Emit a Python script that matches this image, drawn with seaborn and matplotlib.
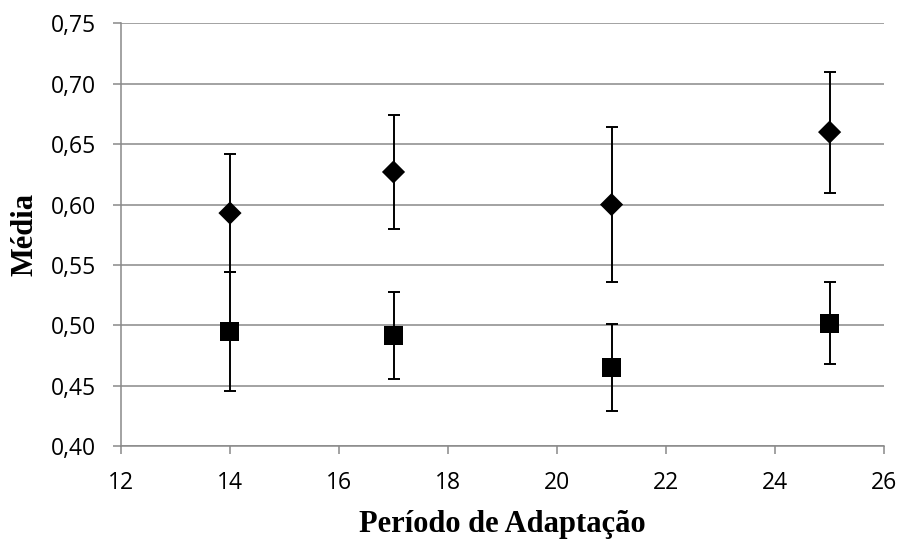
import matplotlib
matplotlib.use("Agg")
import matplotlib.pyplot as plt
import seaborn as sns
import pandas as pd

periodo = [14, 17, 21, 25]
media_a = [0.593, 0.627, 0.600, 0.660]
erro_a = [0.049, 0.047, 0.064, 0.050]
media_b = [0.495, 0.492, 0.465, 0.502]
erro_b = [0.049, 0.036, 0.036, 0.034]
y_ticks = [0.40, 0.45, 0.50, 0.55, 0.60, 0.65, 0.70, 0.75]
x_ticks = [12, 14, 16, 18, 20, 22, 24, 26]

df = pd.DataFrame({
    "Período": periodo * 2,
    "Média": media_a + media_b,
    "Erro": erro_a + erro_b,
    "Série": ["A"] * 4 + ["B"] * 4,
})

sns.set_theme(style="white")
plt.rcParams["font.family"] = ["Open Sans", "DejaVu Sans"]

fig = plt.figure(figsize=(9.04, 5.4), dpi=100)
ax = fig.add_axes([0.1338, 0.1735, 0.978 - 0.1338, 0.9568 - 0.1735])

grid_c = "#898989"
for s, g in df.groupby("Série"):
    ax.errorbar(g["Período"], g["Média"], yerr=g["Erro"], fmt="none",
                ecolor="black", elinewidth=1.4, capsize=4.3, capthick=1.4, zorder=3)

sns.scatterplot(data=df, x="Período", y="Média", style="Série",
                markers={"A": "D", "B": "s"}, color="black",
                ax=ax, legend=False, zorder=4, linewidth=0)
coll = ax.collections[-1]
sizes = [11.8 ** 2 if s == "A" else 13.7 ** 2 for s in df["Série"]]
coll.set_sizes(sizes)

ax.set_xlim(12, 26)
ax.set_ylim(0.40, 0.75)
ax.set_xticks(x_ticks)
ax.set_yticks(y_ticks)
ax.set_yticklabels([f"{v:.2f}".replace(".", ",") for v in y_ticks])
ax.set_xticklabels([str(v) for v in x_ticks])
ax.yaxis.grid(True, color=grid_c, linewidth=1.1)
ax.xaxis.grid(False)
ax.set_axisbelow(True)

for side in ["top", "right"]:
    ax.spines[side].set_visible(False)
for side in ["left", "bottom"]:
    ax.spines[side].set_color(grid_c)
    ax.spines[side].set_linewidth(1.1)

ax.tick_params(axis="both", which="major", length=5.8, width=1.1, color=grid_c,
               labelsize=16.5, labelcolor="black", direction="out",
               left=True, bottom=True)
ax.tick_params(axis="x", pad=12)
ax.tick_params(axis="y", pad=12)

ax.set_xlabel("Período de Adaptação", family="Liberation Serif", fontweight="bold",
              fontsize=22, color="black", labelpad=11)
ax.set_ylabel("Média", family="Liberation Serif", fontweight="bold",
              fontsize=22, color="black", labelpad=8)

fig.savefig("out.png", dpi=100)
